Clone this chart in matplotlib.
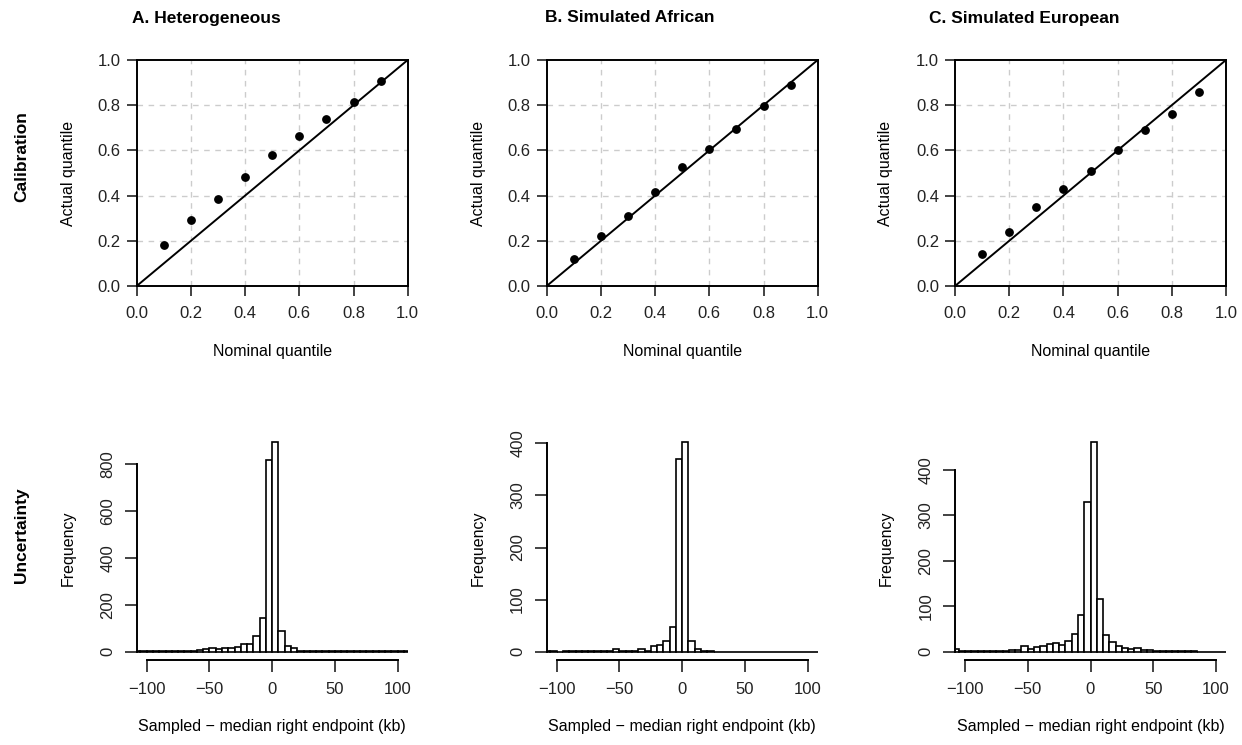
import numpy as np
from matplotlib import pyplot as plt

plt.rcParams['font.family'] = ['Liberation Sans', 'DejaVu Sans']

titles = ['A. Heterogeneous', 'B. Simulated African', 'C. Simulated European']

# calibration: nominal vs actual quantile
nominal = [0.1, 0.2, 0.3, 0.4, 0.5, 0.6, 0.7, 0.8, 0.9]
actual_het = [0.183, 0.293, 0.383, 0.484, 0.578, 0.664, 0.739, 0.813, 0.906]
actual_afr = [0.119, 0.221, 0.308, 0.414, 0.527, 0.608, 0.693, 0.795, 0.889]
actual_eur = [0.140, 0.237, 0.350, 0.431, 0.509, 0.603, 0.689, 0.763, 0.860]

# uncertainty histograms, bins of 5 kb from -110 to 110
bin_edges = list(range(-110, 115, 5))
counts_het = [2, 2, 3, 2, 3, 2, 4, 3, 3, 2, 5, 10, 15, 10, 14, 14, 21, 31, 34, 67, 144, 817,
              891, 88, 24, 17, 3, 4, 2, 2, 1, 2, 1, 1, 2, 3, 1, 1, 1, 1, 1, 1, 3, 1]
counts_afr = [1, 1, 0, 1, 1, 1, 1, 1, 1, 1, 2, 5, 2, 1, 2, 5, 2, 10, 13, 21, 48, 370,
              402, 21, 6, 2, 2, 0, 0, 0, 0, 0, 0, 0, 0, 0, 0, 0, 0, 0, 0, 0, 0, 0]
counts_eur = [5, 2, 1, 2, 2, 2, 1, 2, 2, 3, 4, 13, 6, 10, 12, 17, 18, 15, 24, 39, 81, 330,
              460, 115, 37, 22, 12, 7, 6, 9, 3, 3, 2, 2, 1, 1, 1, 2, 1, 0, 0, 0, 0, 0]
yticks_hist = [[0, 200, 400, 600, 800], [0, 100, 200, 300, 400], [0, 100, 200, 300, 400]]

calib = [actual_het, actual_afr, actual_eur]
hists = [counts_het, counts_afr, counts_eur]

W, H = 1242, 745
fig = plt.figure(figsize=(W / 100, H / 100), dpi=100)

lefts = [136.7, 546.7, 955]
width = 271
title_x = [206, 630, 1024]
ylab_x = [68, 478, 886]

def frac_rect(x0, ytop, w, h):
    return [x0 / W, (H - ytop - h) / H, w / W, h / H]

for i in range(3):
    # calibration panel
    ax = fig.add_axes(frac_rect(lefts[i], 60, width, 226))
    ax.set_xlim(0, 1)
    ax.set_ylim(0, 1)
    for g in [0.2, 0.4, 0.6, 0.8]:
        ax.axvline(g, color='#cccccc', lw=1, dashes=(4, 4), zorder=0)
        ax.axhline(g, color='#cccccc', lw=1, dashes=(4, 4), zorder=0)
    ax.plot([0, 1], [0, 1], color='black', lw=1.4)
    ax.plot(nominal, calib[i], 'o', color='black', markersize=5.3)
    ticks = [0.0, 0.2, 0.4, 0.6, 0.8, 1.0]
    ax.set_xticks(ticks)
    ax.set_yticks(ticks)
    ax.set_xticklabels(['%.1f' % t for t in ticks])
    ax.set_yticklabels(['%.1f' % t for t in ticks])
    ax.tick_params(direction='out', length=7.5, width=1.2, labelsize=12, colors='#222222')
    ax.tick_params(axis='x', pad=7)
    ax.tick_params(axis='y', pad=4)
    for s in ax.spines.values():
        s.set_linewidth(1.4)
    fig.text(ylab_x[i] / W, 1 - 173 / H, 'Actual quantile', rotation=90,
             ha='center', va='center', fontsize=11.5)
    fig.text((lefts[i] + width / 2) / W, 1 - 352 / H, 'Nominal quantile',
             ha='center', va='center', fontsize=11.5)
    fig.text(title_x[i] / W, 1 - 18 / H, titles[i], ha='center', va='center',
             fontsize=12.5, fontweight='bold')

    # uncertainty histogram
    counts = hists[i]
    ymax = max(counts)
    hx = fig.add_axes(frac_rect(lefts[i], 434, width, 226))
    hx.bar(bin_edges[:-1], counts, width=5, align='edge', color='white',
           edgecolor='black', linewidth=1.2)
    hx.set_xlim(-108, 108)
    hx.set_ylim(-0.04 * ymax, 1.04 * ymax)
    hx.spines['top'].set_visible(False)
    hx.spines['right'].set_visible(False)
    hx.spines['left'].set_bounds(0, yticks_hist[i][-1])
    hx.spines['bottom'].set_bounds(-100, 100)
    hx.spines['left'].set_linewidth(1.4)
    hx.spines['bottom'].set_linewidth(1.4)
    hx.set_xticks([-100, -50, 0, 50, 100])
    hx.set_yticks(yticks_hist[i])
    hx.tick_params(direction='out', length=8.5, width=1.2, labelsize=12, colors='#222222')
    hx.tick_params(axis='x', pad=7)
    hx.tick_params(axis='y', pad=7, labelrotation=90)
    for lab in hx.get_yticklabels():
        lab.set_va('center')
    fig.text(ylab_x[i] / W, 1 - 548 / H, 'Frequency', rotation=90,
             ha='center', va='center', fontsize=11.5)
    fig.text((lefts[i] + width / 2) / W, 1 - 727 / H,
             'Sampled \u2212 median right endpoint (kb)',
             ha='center', va='center', fontsize=11.5)

fig.text(22 / W, 1 - 157 / H, 'Calibration', rotation=90, ha='center', va='center',
         fontsize=12.5, fontweight='bold')
fig.text(22 / W, 1 - 535 / H, 'Uncertainty', rotation=90, ha='center', va='center',
         fontsize=12.5, fontweight='bold')

fig.savefig('out.png', dpi=100)
